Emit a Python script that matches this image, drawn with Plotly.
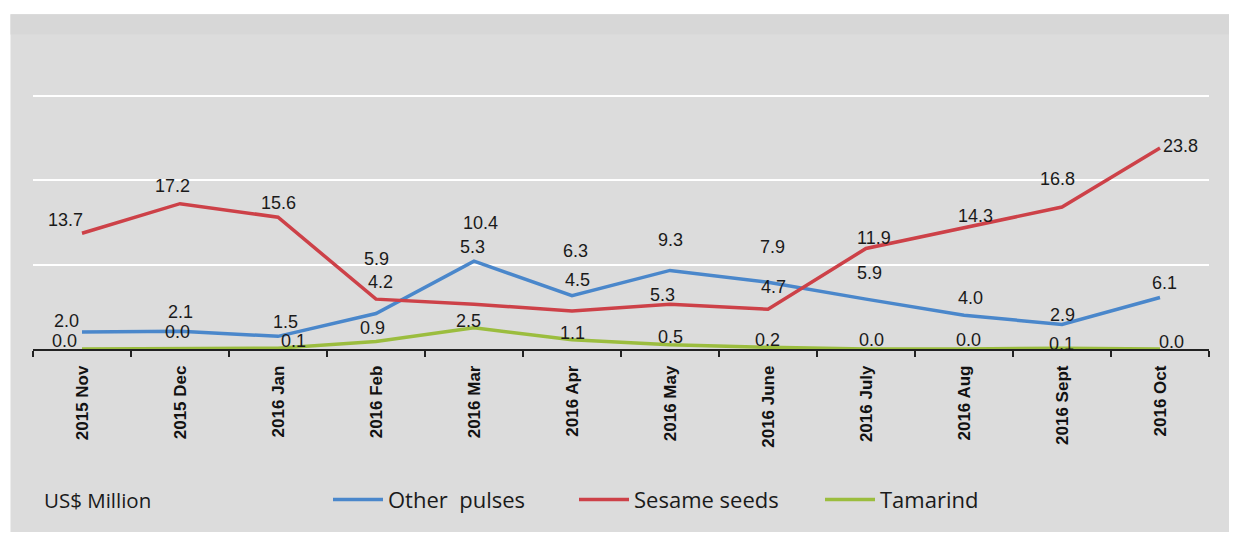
import plotly.graph_objects as go

months = ["2015 Nov", "2015 Dec", "2016 Jan", "2016 Feb", "2016 Mar", "2016 Apr",
          "2016 May", "2016 June", "2016 July", "2016 Aug", "2016 Sept", "2016 Oct"]
other_pulses = [2.0, 2.1, 1.5, 4.2, 10.4, 6.3, 9.3, 7.9, 5.9, 4.0, 2.9, 6.1]
sesame_seeds = [13.7, 17.2, 15.6, 5.9, 5.3, 4.5, 5.3, 4.7, 11.9, 14.3, 16.8, 23.8]
tamarind = [0.0, 0.0, 0.1, 0.9, 2.5, 1.1, 0.5, 0.2, 0.0, 0.0, 0.1, 0.0]

# label placement offsets in screen pixels (dx right, dy down) -- styling only
off_pulses = [(-16, -11), (0, -19), (7, -14), (4, -32), (6, -38), (3, -45),
              (0, -30), (4, -35), (3, -26), (6, -17), (0, -10), (4, -14)]
off_sesame = [(-17, -13), (-8, -18), (0, -14), (0, -40), (-2, -57), (5, -31),
              (-8, -9), (5, -22), (8, -10), (11, -12), (-5, -28), (20, -2)]
off_tamarind = [(-18, -8), (-3, -17), (15, -7), (-4, -13), (-6, -7), (0, -7),
                (0, -8), (-1, -7), (5, -9), (4, -9), (-1, -4), (11, -7)]

OFF = 8  # page body margin
W, H = 1237 - 2 * OFF, 540 - 2 * OFF
L = 33 - OFF
R = W - (1209 - OFF)
zero_y = 357.5 - OFF
ymax = 30.3
scale = 8.72
B = H - zero_y
T = zero_y - ymax * scale
pw, ph = W - L - R, H - T - B

def px(x):  # page pixel -> paper
    return (x - OFF - L) / pw

def py(y):
    return (H - B - (y - OFF)) / ph

label_font = dict(family="Liberation Sans, Arial", size=18, color="#1a1a1a")

series = [
    ("Other\u00a0 pulses", other_pulses, "#4a87cb", off_pulses),
    ("Sesame seeds", sesame_seeds, "#cd4148", off_sesame),
    ("Tamarind", tamarind, "#9bbd3e", off_tamarind),
]

fig = go.Figure()
annotations = []
for name, vals, col, offs in series:
    fig.add_trace(go.Scatter(
        x=months, y=vals, name=name, mode="lines",
        line=dict(color=col, width=3.5),
        cliponaxis=False,
    ))
    for m, v, (dx, dy) in zip(months, vals, offs):
        annotations.append(dict(
            x=m, y=v, xref="x", yref="y", text=f"{v:.1f}", showarrow=False,
            xanchor="center", yanchor="middle", xshift=dx, yshift=-dy,
            font=label_font,
        ))

shapes = [
    dict(type="rect", xref="paper", yref="paper", layer="below",
         x0=px(10.5), x1=px(1300), y0=py(600), y1=py(12),
         fillcolor="#dcdcdc", line=dict(width=0)),
    dict(type="rect", xref="paper", yref="paper", layer="below",
         x0=px(10.5), x1=px(1300), y0=py(33), y1=py(12),
         fillcolor="#d7d7d7", line=dict(width=0)),
]

annotations.append(dict(
    text="US$ Million", xref="paper", yref="paper", x=px(42), y=py(513),
    xanchor="left", yanchor="middle", showarrow=False,
    font=dict(family="Open Sans, Liberation Sans", size=20.5, color="#1a1a1a")))

fig.update_layout(
    width=W, height=H,
    margin=dict(l=L, r=R, t=T, b=B, pad=0),
    paper_bgcolor="white",
    plot_bgcolor="rgba(0,0,0,0)",
    shapes=shapes,
    annotations=annotations,
    showlegend=True,
    legend=dict(
        orientation="h", x=px(328), y=py(513), xanchor="left", yanchor="middle",
        bgcolor="rgba(0,0,0,0)",
        font=dict(family="Open Sans, Liberation Sans", size=22, color="#1a1a1a"),
        itemwidth=50, traceorder="normal", entrywidth=181,
    ),
    xaxis=dict(
        type="category", showgrid=False, showline=True, linecolor="#222222", linewidth=1.5,
        ticks="outside", ticklen=6, tickcolor="#222222", tickwidth=1.5,
        tickson="boundaries", tickangle=-90, ticklabelstandoff=8,
        tickfont=dict(family="Liberation Sans, Arial", size=17, color="#111111", weight="bold"),
        range=[-0.5, 11.5], fixedrange=True,
    ),
    yaxis=dict(
        range=[0, ymax], dtick=10, showgrid=True, gridcolor="white", gridwidth=2,
        showticklabels=False, zeroline=False, showline=False, fixedrange=True,
    ),
)

fig.write_html("out.html")
